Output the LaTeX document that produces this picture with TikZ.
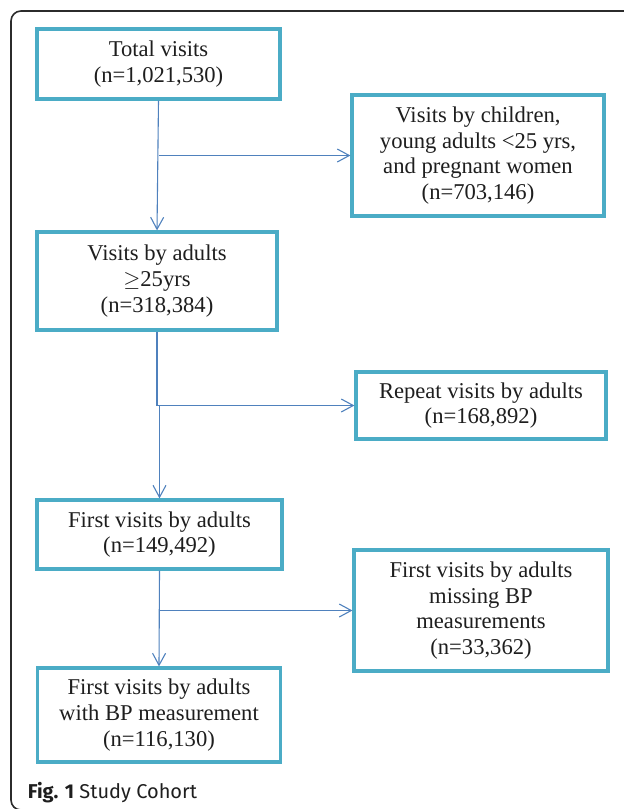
\documentclass[tikz,border=0pt]{standalone}
\usepackage{fontspec}
\setmainfont{Liberation Serif}
\newfontfamily\capfont{Fira Sans}
\usetikzlibrary{arrows.meta}
\definecolor{boxteal}{HTML}{4BACC6}
\definecolor{linkblue}{HTML}{4F81BD}
\definecolor{framegray}{HTML}{2B2B2B}
\definecolor{txtgray}{HTML}{1E1E1E}
\tikzset{>={Straight Barb[length=6pt,width=6.5pt]}}
\tikzset{
  stage/.style={draw=boxteal, line width=1.6pt, fill=white, align=center,
    inner sep=0pt, text=txtgray, font=\fontsize{11.3}{12.85}\selectfont},
  flow/.style={->, draw=linkblue, line width=0.55pt}
}

\begin{document}
\begin{tikzpicture}[x=0.5pt,y=-0.5pt]
\useasboundingbox (0,0) rectangle (624,809);
\begin{scope}
\clip (0,0) rectangle (624,809);
\draw[framegray, line width=0.8pt, rounded corners=5pt] (11,11) rectangle (660,810);
\end{scope}
% main column
\node[stage, minimum width=121.5pt, minimum height=35pt] (total) at (158.5,64)
  {Total visits\\(n=1,021,530)};
\node[stage, minimum width=120pt, minimum height=49pt] (adults) at (157,281)
  {Visits by adults\\$\geq$25yrs\\(n=318,384)};
\node[stage, minimum width=122.5pt, minimum height=34.5pt] (first) at (159.5,534.5)
  {First visits by adults\\(n=149,492)};
\node[stage, minimum width=121.5pt, minimum height=47pt] (withbp) at (159,715)
  {First visits by adults\\with BP measurement\\(n=116,130)};
% excluded
\node[stage, minimum width=126pt, minimum height=60.5pt] (young) at (478,155.5)
  {Visits by children,\\young adults <25 yrs,\\and pregnant women\\(n=703,146)};
\node[stage, minimum width=125pt, minimum height=33.5pt] (repeat) at (481,405.5)
  {Repeat visits by adults\\(n=168,892)};
\node[stage, minimum width=127pt, minimum height=60.5pt] (nobp) at (481,610.5)
  {First visits by adults\\missing BP\\measurements\\(n=33,362)};
% connectors
\draw[flow] (total.south) -- (adults.north);
\draw[flow] (total.south |- young.west) -- (young.west);
\draw[flow] (adults.south) |- (repeat.west);
\draw[flow] (first.north |- repeat.west) -- (first.north);
\draw[flow] (first.south) -- (withbp.north);
\draw[flow] (first.south |- nobp.west) -- (nobp.west);
% caption
\node[anchor=base west, inner sep=0pt, text=txtgray, font=\capfont\fontsize{10}{12}\selectfont]
  (cap) at (27.5,798.5) {\textbf{Fig. 1} Study Cohort};
\end{tikzpicture}
\end{document}
